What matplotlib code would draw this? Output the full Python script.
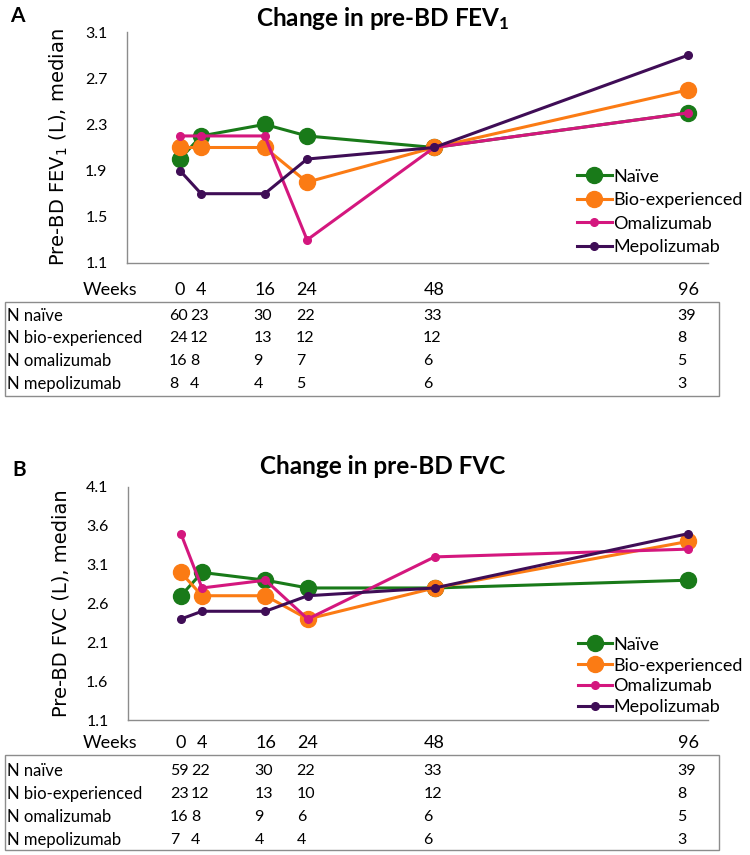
import matplotlib
matplotlib.use("Agg")
from matplotlib import pyplot as plt
from matplotlib import transforms
from matplotlib.patches import Rectangle

plt.rcParams['font.family'] = ['Lato', 'DejaVu Sans']
plt.rcParams['mathtext.default'] = 'regular'

weeks = [0, 4, 16, 24, 48, 96]
groups = ['Naïve', 'Bio-experienced', 'Omalizumab', 'Mepolizumab']
row_names = ['N naïve', 'N bio-experienced', 'N omalizumab', 'N mepolizumab']
colors = ['#197a19', '#fb7b14', '#d4177e', '#3f0d56']
marker_sizes = [11.5, 11.5, 5.5, 5.5]

# panel A: pre-BD FEV1 medians (L)
fev1_naive = [2.0, 2.2, 2.3, 2.2, 2.1, 2.4]
fev1_bio = [2.1, 2.1, 2.1, 1.8, 2.1, 2.6]
fev1_omal = [2.2, 2.2, 2.2, 1.3, 2.1, 2.4]
fev1_mepol = [1.9, 1.7, 1.7, 2.0, 2.1, 2.9]
fev1_ticks = [1.1, 1.5, 1.9, 2.3, 2.7, 3.1]

n_fev1_naive = [60, 23, 30, 22, 33, 39]
n_fev1_bio = [24, 12, 13, 12, 12, 8]
n_fev1_omal = [16, 8, 9, 7, 6, 5]
n_fev1_mepol = [8, 4, 4, 5, 6, 3]

# panel B: pre-BD FVC medians (L)
fvc_naive = [2.7, 3.0, 2.9, 2.8, 2.8, 2.9]
fvc_bio = [3.0, 2.7, 2.7, 2.4, 2.8, 3.4]
fvc_omal = [3.5, 2.8, 2.9, 2.4, 3.2, 3.3]
fvc_mepol = [2.4, 2.5, 2.5, 2.7, 2.8, 3.5]
fvc_ticks = [1.1, 1.6, 2.1, 2.6, 3.1, 3.6, 4.1]

n_fvc_naive = [59, 22, 30, 22, 33, 39]
n_fvc_bio = [23, 12, 13, 10, 12, 8]
n_fvc_omal = [16, 8, 9, 6, 6, 5]
n_fvc_mepol = [7, 4, 4, 4, 6, 3]

W, H = 750, 855
fig = plt.figure(figsize=(W / 100, H / 100), dpi=100)


def fx(px):
    return px / W


def fy(py):
    return 1 - py / H


def panel(ax, series, ticks, title, ylabel, letter, counts,
          title_y, letter_xy, weeks_y, box_top, box_bottom, row_ys,
          legend_y, legend_space):
    for vals, name, c, ms in zip(series, groups, colors, marker_sizes):
        ax.plot(weeks, vals, color=c, lw=2.2, marker='o', ms=ms, label=name)
    ax.set_xlim(-10, 99.7)
    ax.set_ylim(ticks[0], ticks[-1])
    ax.set_yticks(ticks)
    ax.set_yticklabels([f"{t:.1f}" for t in ticks])
    ax.set_xticks([])
    for s in ['top', 'right']:
        ax.spines[s].set_visible(False)
    for s in ['left', 'bottom']:
        ax.spines[s].set_color('#8c8c8c')
        ax.spines[s].set_linewidth(1)
    ax.tick_params(axis='y', length=0, pad=14, labelsize=11.5)
    ax.set_ylabel(ylabel, family='DejaVu Sans', fontsize=14, labelpad=11)

    fig.text(fx(383), fy(title_y), title, ha='center', va='center',
             fontsize=17.5, fontweight='bold')
    fig.text(fx(letter_xy[0]), fy(letter_xy[1]), letter, ha='center', va='center',
             fontsize=15, fontweight='bold')

    ax.legend(loc='lower left', bbox_to_anchor=(0.775, legend_y), frameon=False,
              fontsize=13, handlelength=1.9, handletextpad=0.1,
              labelspacing=legend_space, borderpad=0, borderaxespad=0)

    # week header and N table under the axis
    tr = transforms.blended_transform_factory(ax.transData, fig.transFigure)
    fig.text(fx(137), fy(weeks_y), 'Weeks', ha='right', va='center', fontsize=13)
    for w in weeks:
        ax.text(w, fy(weeks_y), str(w), transform=tr, ha='center', va='center',
                fontsize=13)
    fig.patches.append(Rectangle((fx(5), fy(box_bottom)), fx(719) - fx(5),
                                 fy(box_top) - fy(box_bottom), transform=fig.transFigure,
                                 fill=False, edgecolor='#8c8c8c', lw=1))
    for name, row, y in zip(row_names, counts, row_ys):
        fig.text(fx(7), fy(y), name, ha='left', va='center', fontsize=12)
        for w, n in zip(weeks, row):
            ax.text(w - 2.1, fy(y), str(n), transform=tr, ha='left', va='center',
                    fontsize=11.5)


axA = fig.add_axes([fx(127), fy(263), fx(708) - fx(127), fy(32) - fy(263)])
panel(axA, [fev1_naive, fev1_bio, fev1_omal, fev1_mepol], fev1_ticks,
      'Change in pre-BD FEV$_1$', 'Pre-BD FEV$_1$ (L), median', 'A',
      [n_fev1_naive, n_fev1_bio, n_fev1_omal, n_fev1_mepol],
      18, (17, 16), 290, 302, 396, [316, 338, 361, 384], 0.035, 0.41)

axB = fig.add_axes([fx(128), fy(720), fx(708) - fx(128), fy(487) - fy(720)])
panel(axB, [fvc_naive, fvc_bio, fvc_omal, fvc_mepol], fvc_ticks,
      'Change in pre-BD FVC', 'Pre-BD FVC (L), median', 'B',
      [n_fvc_naive, n_fvc_bio, n_fvc_omal, n_fvc_mepol],
      467, (19, 470), 743, 755, 850, [771, 794, 817, 840], 0.02, 0.27)

fig.savefig('out.png', dpi=100)
